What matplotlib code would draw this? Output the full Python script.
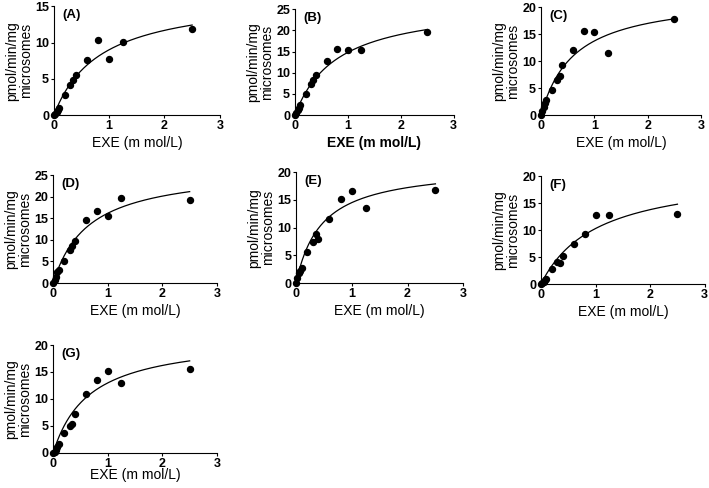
import numpy as np
import matplotlib.pyplot as plt

plt.rcParams['font.family'] = ['Liberation Sans', 'DejaVu Sans']

# EXE concentrations (mmol/L), same for every panel
conc = [0, 0.025, 0.05, 0.075, 0.1, 0.2, 0.3, 0.35, 0.4, 0.6, 0.8, 1.0, 1.25, 2.5]

# measured rates (pmol/min/mg microsomes)
rate_a = [0, 0.2, 0.4, 0.7, 1.0, 2.8, 4.2, 4.8, 5.6, 7.6, 10.4, 7.7, 10.1, 11.9]
rate_b = [0, 0.5, 1.2, 1.8, 2.4, 5.0, 7.3, 8.3, 9.4, 12.8, 15.7, 15.5, 15.5, 19.7]
rate_c = [0, 0.8, 1.5, 2.2, 2.8, 4.7, 6.6, 7.3, 9.3, 12.1, 15.6, 15.5, 11.6, 17.8]
rate_d = [0, 0.8, 1.5, 2.5, 3.0, 5.2, 7.7, 8.7, 9.8, 14.5, 16.6, 15.6, 19.7, 19.2]
rate_e = [0, 0.9, 1.9, 2.2, 2.7, 5.6, 7.4, 8.8, 7.9, 11.5, 15.1, 16.6, 13.6, 16.8]
rate_f = [0, 0.1, 0.3, 0.7, 1.0, 2.8, 4.0, 3.9, 5.2, 7.4, 9.3, 12.8, 12.8, 12.9]
rate_g = [0, 0.2, 0.5, 1.0, 1.7, 3.7, 5.0, 5.4, 7.2, 10.9, 13.5, 15.2, 12.9, 15.6]

# fitted Michaelis-Menten parameters (Vmax, Km)
vmax = [16.6, 26.7, 22.3, 26.7, 21.2, 20.9, 21.6]
km = [0.84, 0.80, 0.62, 0.65, 0.46, 1.03, 0.665]

labels = ['(A)', '(B)', '(C)', '(D)', '(E)', '(F)', '(G)']
ymax = [15, 25, 20, 25, 20, 20, 20]
rates = [rate_a, rate_b, rate_c, rate_d, rate_e, rate_f, rate_g]

# axes boxes [left, bottom, width, height] in figure fractions
boxes = [
    [0.076, 0.764, 0.234, 0.223],
    [0.416, 0.764, 0.224, 0.217],
    [0.763, 0.764, 0.226, 0.221],
    [0.075, 0.420, 0.231, 0.221],
    [0.4175, 0.420, 0.236, 0.227],
    [0.763, 0.418, 0.231, 0.221],
    [0.075, 0.072, 0.231, 0.221],
]

fig = plt.figure(figsize=(7.09, 4.88), dpi=100)

for i in range(7):
    ax = fig.add_axes(boxes[i])
    ax.plot(conc, rates[i], 'o', color='black', markersize=4.3, clip_on=False, zorder=3)
    xs = np.linspace(0, 2.5, 200)
    ax.plot(xs, vmax[i] * xs / (km[i] + xs), color='black', linewidth=0.9, clip_on=False)

    ax.set_xlim(0, 3)
    ax.set_ylim(0, ymax[i])
    ax.set_xticks([0, 1, 2, 3])
    ax.set_yticks(np.arange(0, ymax[i] + 1, 5))
    ax.spines['top'].set_visible(False)
    ax.spines['right'].set_visible(False)
    ax.tick_params(direction='out', length=2.5, width=0.8, labelsize=9, pad=1)
    for t in ax.get_xticklabels() + ax.get_yticklabels():
        t.set_fontweight('bold')

    weight = 'bold' if i == 1 else 'normal'
    lpad = -1 if i == 6 else 3
    ax.set_xlabel('EXE (m mol/L)', fontsize=10, fontweight=weight, labelpad=lpad)
    ax.set_ylabel('pmol/min/mg\nmicrosomes', fontsize=10, labelpad=1.5, linespacing=1.0)
    ax.text(0.05, 0.92, labels[i], transform=ax.transAxes, fontsize=9.5,
            fontweight='bold', ha='left', va='center')

fig.savefig('out.png', dpi=100)
